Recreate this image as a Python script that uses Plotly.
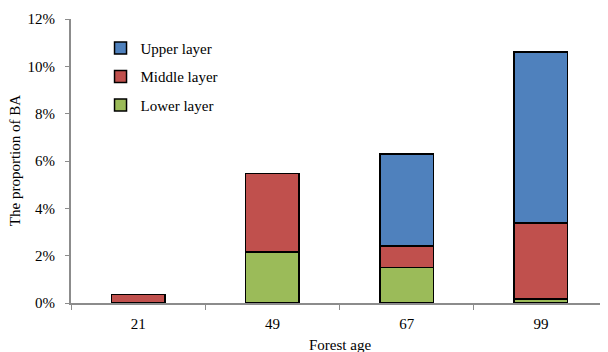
import plotly.graph_objects as go

ages = ["21", "49", "67", "99"]
lower = [0.0, 0.0215, 0.0149, 0.0017]
middle = [0.0035, 0.0332, 0.0092, 0.0320]
upper = [0.0, 0.0, 0.0389, 0.0723]

series = [("Lower layer", lower, "#9BBB59", 3),
          ("Middle layer", middle, "#C0504D", 2),
          ("Upper layer", upper, "#4F81BD", 1)]

font = "Liberation Serif"
fig = go.Figure()
for name, vals, col, rank in series:
    fig.add_trace(go.Bar(x=ages, y=vals, name=name, legendgroup=name, legendrank=rank,
                         marker=dict(color=col, line=dict(color="black", width=1.5))))

fig.update_layout(
    barmode="stack", bargap=0.6,
    width=600, height=344,
    margin=dict(l=63, r=0, t=11, b=49, autoexpand=False),
    paper_bgcolor="white", plot_bgcolor="white",
    font=dict(family=font, size=15, color="black"),
    showlegend=True,
    legend=dict(x=0.055, y=0.955, xanchor="left", yanchor="top",
                traceorder="grouped", tracegroupgap=6,
                font=dict(size=15, family=font), bgcolor="rgba(0,0,0,0)"),
    xaxis=dict(type="category", showline=True, linecolor="#8c8c8c", linewidth=2,
               ticks="outside", tickson="boundaries", ticklen=5, tickcolor="#8c8c8c",
               tickwidth=1, showgrid=False, ticklabelstandoff=6),
    yaxis=dict(range=[0, 0.12], dtick=0.02, tickformat=".0%", showline=True,
               linecolor="#8c8c8c", linewidth=2, ticks="outside", ticklen=4,
               tickcolor="#8c8c8c", showgrid=False, zeroline=False,
               ticklabelstandoff=7),
    annotations=[
        dict(text="Forest age", xref="paper", yref="paper", x=0.5, y=-0.148,
             xanchor="center", yanchor="middle", showarrow=False, font=dict(size=15)),
        dict(text="The proportion of BA", xref="paper", yref="paper", x=-0.104, y=0.5,
             xanchor="center", yanchor="middle", textangle=-90, showarrow=False,
             font=dict(size=15)),
    ],
)
fig.write_html("out.html")
